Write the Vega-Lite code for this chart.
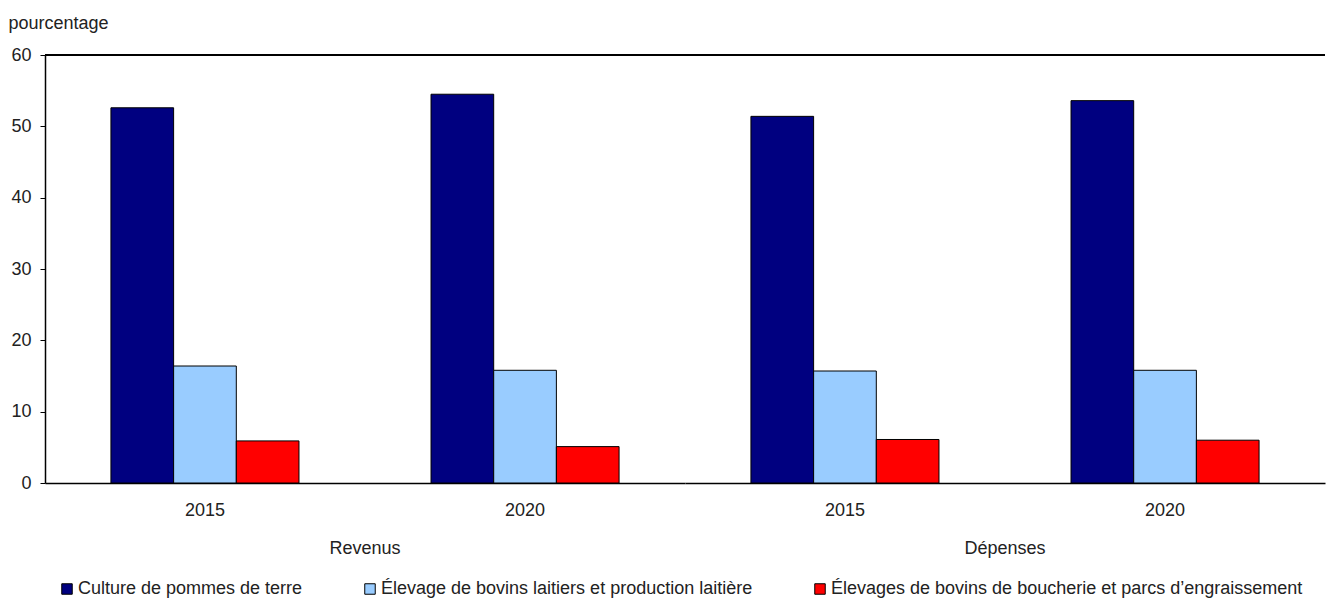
{
  "$schema": "https://vega.github.io/schema/vega-lite/v6.json",
  "padding": {"left": 8, "top": 14, "right": 0, "bottom": 0},
  "background": "white",
  "bounds": "flush",
  "data": {"values": [
    {"type": "Revenus", "year": "2015", "series": "Culture de pommes de terre", "value": 52.6},
    {"type": "Revenus", "year": "2015", "series": "Élevage de bovins laitiers et production laitière", "value": 16.4},
    {"type": "Revenus", "year": "2015", "series": "Élevages de bovins de boucherie et parcs d’engraissement", "value": 5.9},
    {"type": "Revenus", "year": "2020", "series": "Culture de pommes de terre", "value": 54.5},
    {"type": "Revenus", "year": "2020", "series": "Élevage de bovins laitiers et production laitière", "value": 15.8},
    {"type": "Revenus", "year": "2020", "series": "Élevages de bovins de boucherie et parcs d’engraissement", "value": 5.1},
    {"type": "Dépenses", "year": "2015", "series": "Culture de pommes de terre", "value": 51.4},
    {"type": "Dépenses", "year": "2015", "series": "Élevage de bovins laitiers et production laitière", "value": 15.7},
    {"type": "Dépenses", "year": "2015", "series": "Élevages de bovins de boucherie et parcs d’engraissement", "value": 6.1},
    {"type": "Dépenses", "year": "2020", "series": "Culture de pommes de terre", "value": 53.6},
    {"type": "Dépenses", "year": "2020", "series": "Élevage de bovins laitiers et production laitière", "value": 15.8},
    {"type": "Dépenses", "year": "2020", "series": "Élevages de bovins de boucherie et parcs d’engraissement", "value": 6.0}
  ]},
  "facet": {
    "column": {
      "field": "type", "type": "nominal", "sort": ["Revenus", "Dépenses"], "title": null,
      "header": {"labelOrient": "bottom", "labelFontSize": 18, "labelFont": "Liberation Sans", "labelColor": "#222222", "labelPadding": 21}
    }
  },
  "spacing": 0,
  "spec": {
    "width": 640,
    "height": 428,
    "layer": [
      {
        "mark": {"type": "bar", "stroke": "black", "strokeWidth": 1},
        "encoding": {
          "x": {"field": "year", "type": "nominal", "title": null,
                "scale": {"paddingInner": 0.4125, "paddingOuter": 0.206},
                "axis": {"labelAngle": 0, "ticks": false, "domainColor": "black", "domainWidth": 1.5, "labelPadding": 18, "labelFontSize": 18}},
          "xOffset": {"field": "series", "sort": ["Culture de pommes de terre", "Élevage de bovins laitiers et production laitière", "Élevages de bovins de boucherie et parcs d’engraissement"]},
          "y": {"field": "value", "type": "quantitative", "title": "pourcentage",
                "scale": {"domain": [0, 60]},
                "axis": {"values": [0, 10, 20, 30, 40, 50, 60], "grid": false, "domainColor": "black", "domainWidth": 1.5, "tickColor": "black", "tickSize": 5, "labelPadding": 9, "labelFontSize": 18,
                         "titleAngle": 0, "titleAlign": "left", "titleBaseline": "alphabetic", "titleX": -37, "titleY": -27, "titleFontSize": 18, "titleFontWeight": "normal"}},
          "color": {"field": "series", "type": "nominal", "title": null,
                    "sort": ["Culture de pommes de terre", "Élevage de bovins laitiers et production laitière", "Élevages de bovins de boucherie et parcs d’engraissement"],
                    "scale": {"range": ["#000080", "#99CCFF", "#FF0000"]},
                    "legend": {"orient": "none", "legendX": 13, "legendY": 525, "direction": "horizontal", "symbolType": "square", "symbolSize": 110, "symbolStrokeColor": "black", "symbolStrokeWidth": 1, "symbolOpacity": 1, "labelFontSize": 18, "labelLimit": 800, "columnPadding": 58, "labelOffset": 2}}
        }
      },
      {
        "mark": {"type": "rule", "color": "black", "strokeWidth": 1.5},
        "encoding": {"y": {"datum": 60}}
      }
    ]
  },
  "config": {
    "view": {"stroke": null},
    "font": "Liberation Sans",
    "axis": {"labelColor": "#222222", "titleColor": "#222222", "labelFont": "Liberation Sans", "titleFont": "Liberation Sans"},
    "legend": {"labelColor": "#222222", "labelFont": "Liberation Sans"}
  }
}
